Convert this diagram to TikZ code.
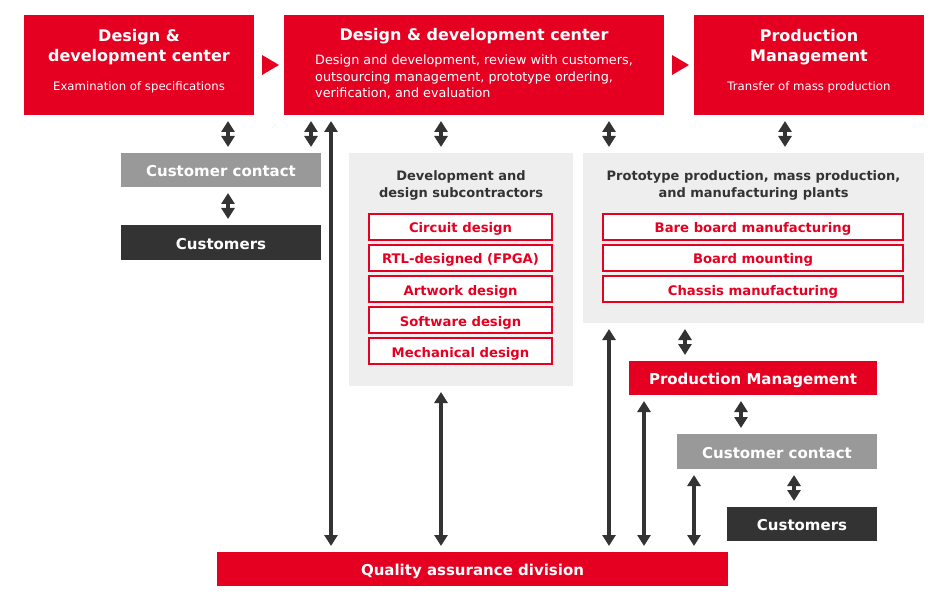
\documentclass[tikz,border=0pt]{standalone}
\usepackage{fontspec}
\setmainfont{DejaVu Sans}
\usetikzlibrary{arrows.meta}
\definecolor{qred}{HTML}{E50022}
\definecolor{qgrey}{HTML}{999999}
\definecolor{qdark}{HTML}{333333}
\definecolor{qpanel}{HTML}{EEEEEE}
\tikzset{
  box/.style={inner sep=0pt,outer sep=0pt,text=white,text height=13.5pt,text depth=0pt,
    font=\fontsize{15}{18}\selectfont\bfseries},
  redbox/.style={box,fill=qred},
  greybox/.style={box,fill=qgrey},
  darkbox/.style={box,fill=qdark},
  panel/.style={inner sep=0pt,outer sep=0pt,fill=qpanel},
  item/.style={inner sep=0pt,outer sep=0pt,fill=white,draw=qred,line width=1.2pt,text=qred,
    minimum height=26,text height=12pt,text depth=0pt,font=\fontsize{13.2}{16}\selectfont\bfseries},
  boxtitle/.style={text=white,align=center,inner sep=0pt,font=\fontsize{16}{20}\selectfont\bfseries},
  boxsub/.style={text=white,inner sep=0pt,font=\fontsize{11.7}{16}\selectfont},
  paneltitle/.style={text=qdark,align=center,inner sep=0pt,font=\fontsize{13}{17}\selectfont\bfseries},
  dbl/.style={draw=qdark,line width=4pt,shorten <=6pt,shorten >=6pt,
    {Triangle[width=13pt,length=11pt]}-{Triangle[width=13pt,length=11pt]}}
}
\begin{document}
\begin{tikzpicture}[x=1pt,y=-1pt]
\useasboundingbox (0,0) rectangle (940,604);
% top row
\node[redbox,minimum width=230,minimum height=100] (dc1) at (139,65) {};
\node[boxtitle] (dc1t) at (139,47) {Design \&\\development center};
\node[boxsub] (dc1s) at (139,87) {Examination of specifications};
\node[redbox,minimum width=380,minimum height=100] (dc2) at (474,65) {};
\node[boxtitle] (dc2t) at (474,36) {Design \& development center};
\node[boxsub,anchor=north west,align=left,font=\fontsize{12.8}{16.5}\selectfont] (dc2s) at (315,55)
  {Design and development, review with customers,\\outsourcing management, prototype ordering,\\verification, and evaluation};
\node[redbox,minimum width=230,minimum height=100] (dc3) at (809,65) {};
\node[boxtitle] (dc3t) at (809,47) {Production\\Management};
\node[boxsub] (dc3s) at (809,87) {Transfer of mass production};
\fill[qred] ([shift={(8,-10)}]dc1.east) -- ([shift={(25,0)}]dc1.east) -- ([shift={(8,10)}]dc1.east) -- cycle;
\fill[qred] ([shift={(8,-10)}]dc2.east) -- ([shift={(25,0)}]dc2.east) -- ([shift={(8,10)}]dc2.east) -- cycle;

% customer side
\node[greybox,minimum width=200,minimum height=34] (cc1) at (221,170) {Customer contact};
\node[darkbox,minimum width=200,minimum height=35] (cu1) at (221,242.5) {Customers};

% subcontractors
\node[panel,minimum width=224,minimum height=233] (sub) at (461,269.5) {};
\node[paneltitle] (subt) at (461,185) {Development and\\design subcontractors};
\node[item,minimum width=183] (i1) at (460.5,227) {Circuit design};
\node[item,minimum width=183] (i2) at (460.5,258) {RTL-designed (FPGA)};
\node[item,minimum width=183] (i3) at (460.5,289) {Artwork design};
\node[item,minimum width=183] (i4) at (460.5,320) {Software design};
\node[item,minimum width=183] (i5) at (460.5,351) {Mechanical design};

% plants
\node[panel,minimum width=341,minimum height=170] (mfg) at (753.5,238) {};
\node[paneltitle] (mfgt) at (753.5,185) {Prototype production, mass production,\\and manufacturing plants};
\node[item,minimum width=300] (m1) at (753,227) {Bare board manufacturing};
\node[item,minimum width=300] (m2) at (753,258) {Board mounting};
\node[item,minimum width=300] (m3) at (753,289) {Chassis manufacturing};

% production side
\node[redbox,minimum width=248,minimum height=34] (pm) at (753,378) {Production Management};
\node[greybox,minimum width=200,minimum height=35] (cc2) at (777,451.5) {Customer contact};
\node[darkbox,minimum width=150,minimum height=34] (cu2) at (802,524) {Customers};

\node[redbox,minimum width=511,minimum height=34] (qa) at (472.5,569) {Quality assurance division};

% arrow columns
\coordinate (xa) at (228,0);
\coordinate (xb) at (311,0);
\coordinate (xc) at (331,0);
\coordinate (xd) at (441,0);
\coordinate (xe) at (609,0);
\coordinate (xf) at (785,0);
\coordinate (xg) at (685,0);
\coordinate (xh) at (644,0);
\coordinate (xi) at (741,0);
\coordinate (xj) at (694,0);
\coordinate (xk) at (794,0);

\draw[dbl] (xa |- dc1.south) -- (xa |- cc1.north);
\draw[dbl] (xb |- dc2.south) -- (xb |- cc1.north);
\draw[dbl] (xa |- cc1.south) -- (xa |- cu1.north);
\draw[dbl] (xc |- dc2.south) -- (xc |- qa.north);
\draw[dbl] (xd |- dc2.south) -- (xd |- sub.north);
\draw[dbl] (xd |- sub.south) -- (xd |- qa.north);
\draw[dbl] (xe |- dc2.south) -- (xe |- mfg.north);
\draw[dbl] (xf |- dc3.south) -- (xf |- mfg.north);
\draw[dbl] (xe |- mfg.south) -- (xe |- qa.north);
\draw[dbl] (xg |- mfg.south) -- (xg |- pm.north);
\draw[dbl] (xh |- pm.south) -- (xh |- qa.north);
\draw[dbl] (xi |- pm.south) -- (xi |- cc2.north);
\draw[dbl] (xj |- cc2.south) -- (xj |- qa.north);
\draw[dbl] (xk |- cc2.south) -- (xk |- cu2.north);
\end{tikzpicture}
\end{document}
